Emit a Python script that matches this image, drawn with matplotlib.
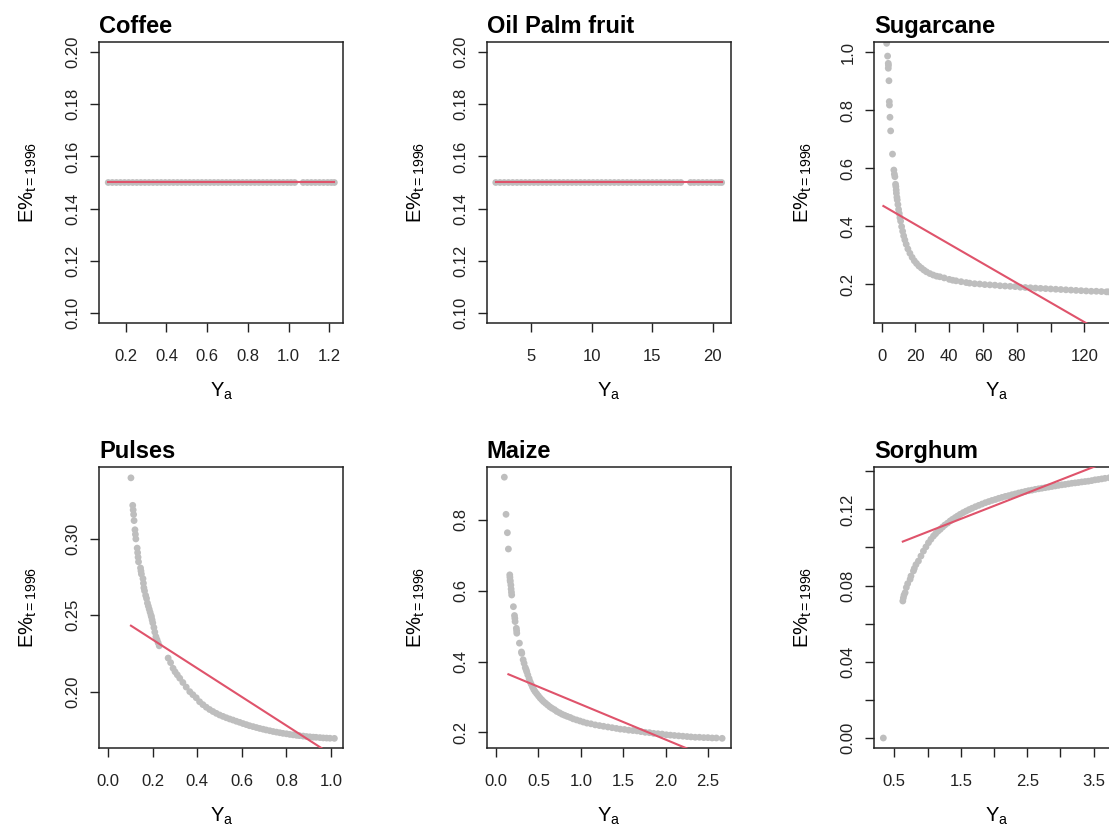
import matplotlib
matplotlib.use("Agg")
import matplotlib.pyplot as plt

plt.rcParams['font.family'] = ['Liberation Sans', 'DejaVu Sans']
plt.rcParams['mathtext.fontset'] = 'custom'
plt.rcParams['mathtext.rm'] = 'Liberation Sans'
plt.rcParams['mathtext.it'] = 'Liberation Sans:italic'
plt.rcParams['mathtext.default'] = 'regular'

GRAY = '#BEBEBE'
RED = '#DF536B'

# ---------------- data ----------------
titles = ['Coffee', 'Oil Palm fruit', 'Sugarcane', 'Pulses', 'Maize', 'Sorghum']

coffee_x = [0.114, 0.134, 0.154, 0.174, 0.194, 0.214, 0.234, 0.254, 0.274, 0.294,
            0.314, 0.334, 0.354, 0.374, 0.394, 0.414, 0.434, 0.454, 0.474, 0.494,
            0.514, 0.534, 0.554, 0.574, 0.594, 0.614, 0.634, 0.654, 0.674, 0.694,
            0.714, 0.734, 0.754, 0.774, 0.794, 0.814, 0.834, 0.854, 0.874, 0.894,
            0.914, 0.934, 0.954, 0.974, 0.994, 1.012, 1.030, 1.072, 1.092, 1.112,
            1.132, 1.152, 1.172, 1.192, 1.210, 1.225]
coffee_y = 0.15
coffee_line_x = [0.114, 1.225]
coffee_line_y = [0.15, 0.15]

oil_x = [2.05, 2.40, 2.75, 3.10, 3.45, 3.80, 4.15, 4.50, 4.85, 5.20, 5.55, 5.90,
         6.25, 6.60, 6.95, 7.30, 7.65, 8.00, 8.35, 8.70, 9.05, 9.40, 9.75, 10.10,
         10.45, 10.80, 11.15, 11.50, 11.85, 12.20, 12.55, 12.90, 13.25, 13.60,
         13.95, 14.30, 14.65, 15.00, 15.35, 15.70, 16.05, 16.40, 16.75, 17.05,
         17.35, 18.15, 18.45, 18.80, 19.15, 19.50, 19.85, 20.20, 20.50, 20.72]
oil_y = 0.15
oil_line_x = [2.05, 20.72]
oil_line_y = [0.15, 0.15]

sugar_x = [2.95, 3.5, 3.9, 3.9, 4.0, 4.3, 4.5, 4.6, 4.9, 5.3, 6.4, 7.2, 7.5, 7.8,
           8.2, 8.4, 8.6, 8.7, 9.0, 9.2, 9.6, 10.0, 10.4, 10.8, 11.2, 11.8, 12.4,
           13.0, 13.7, 14.5, 15.5, 16.7, 18.0, 19.3, 20.6, 22.0, 23.5, 25.0, 26.5,
           28.5, 30.5, 32.5, 34.4, 37, 40, 42, 44, 47, 50, 52, 55, 58, 61, 64, 67,
           70, 73, 76, 79, 82, 85, 88, 91, 94, 97, 100, 103, 106, 109, 112, 115,
           118, 121, 124, 127, 130, 133, 134.1]
sugar_y = [1.031, 0.987, 0.962, 0.945, 0.955, 0.902, 0.830, 0.818, 0.776, 0.729,
           0.649, 0.594, 0.580, 0.571, 0.545, 0.537, 0.525, 0.514, 0.500, 0.491,
           0.475, 0.458, 0.444, 0.430, 0.418, 0.399, 0.383, 0.367, 0.353, 0.338,
           0.322, 0.307, 0.293, 0.281, 0.272, 0.263, 0.256, 0.249, 0.243, 0.237,
           0.232, 0.228, 0.226, 0.222, 0.217, 0.214, 0.212, 0.209, 0.206, 0.204,
           0.202, 0.201, 0.199, 0.198, 0.197, 0.195, 0.194, 0.193, 0.192, 0.190,
           0.189, 0.188, 0.187, 0.186, 0.185, 0.184, 0.183, 0.182, 0.181, 0.180,
           0.179, 0.178, 0.177, 0.176, 0.176, 0.175, 0.174, 0.174]
sugar_line_x = [1.0, 134.1]
sugar_line_y = [0.470, 0.022]

pulses_x = [0.102, 0.110, 0.112, 0.114, 0.116, 0.120, 0.122, 0.124, 0.130, 0.132,
            0.134, 0.136, 0.145, 0.147, 0.149, 0.156, 0.158, 0.160, 0.163, 0.168,
            0.172, 0.176, 0.180, 0.184, 0.188, 0.192, 0.194, 0.197, 0.200, 0.205,
            0.209, 0.214, 0.219, 0.224, 0.229, 0.269, 0.280, 0.291, 0.300, 0.310,
            0.321, 0.335, 0.350, 0.366, 0.380, 0.395, 0.410, 0.425, 0.440, 0.455,
            0.470, 0.485, 0.500, 0.515, 0.530, 0.545, 0.560, 0.575, 0.590, 0.605,
            0.620, 0.634, 0.650, 0.665, 0.680, 0.695, 0.709, 0.725, 0.740, 0.755,
            0.770, 0.784, 0.800, 0.815, 0.830, 0.845, 0.858, 0.875, 0.890, 0.905,
            0.920, 0.933, 0.950, 0.965, 0.980, 0.995, 1.015]
pulses_y = [0.340, 0.322, 0.319, 0.316, 0.312, 0.306, 0.303, 0.300, 0.294, 0.291,
            0.288, 0.285, 0.281, 0.279, 0.277, 0.274, 0.271, 0.268, 0.266, 0.263,
            0.261, 0.258, 0.256, 0.254, 0.252, 0.250, 0.249, 0.247, 0.245, 0.242,
            0.239, 0.236, 0.234, 0.232, 0.230, 0.222, 0.219, 0.2153, 0.213, 0.211,
            0.2088, 0.206, 0.203, 0.200, 0.198, 0.196, 0.1934, 0.1915, 0.1898, 0.1883,
            0.1870, 0.1858, 0.1847, 0.1838, 0.1829, 0.1821, 0.1814, 0.1806, 0.1799, 0.1791,
            0.1784, 0.1777, 0.1771, 0.1765, 0.1759, 0.1754, 0.1749, 0.1744, 0.1739, 0.1735,
            0.1731, 0.1727, 0.1724, 0.1720, 0.1717, 0.1714, 0.1712, 0.1709, 0.1706, 0.1704,
            0.1702, 0.1701, 0.1699, 0.1697, 0.1696, 0.1695, 0.1694]
pulses_line_x = [0.102, 1.015]
pulses_line_y = [0.2432, 0.1576]

maize_x = [0.098, 0.118, 0.134, 0.146, 0.162, 0.164, 0.166, 0.168, 0.175, 0.178,
           0.182, 0.185, 0.205, 0.218, 0.222, 0.225, 0.240, 0.243, 0.245, 0.276,
           0.300, 0.304, 0.320, 0.331, 0.345, 0.355, 0.363, 0.375, 0.390, 0.402,
           0.415, 0.430, 0.445, 0.461, 0.480, 0.500, 0.520, 0.540, 0.560, 0.585,
           0.610, 0.635, 0.660, 0.690, 0.717, 0.750, 0.780, 0.810, 0.840, 0.875,
           0.910, 0.950, 0.990, 1.030, 1.072, 1.120, 1.170, 1.220, 1.269, 1.320,
           1.370, 1.420, 1.466, 1.515, 1.565, 1.615, 1.663, 1.710, 1.760, 1.810,
           1.860, 1.910, 1.960, 2.010, 2.057, 2.105, 2.155, 2.205, 2.254, 2.300,
           2.350, 2.400, 2.451, 2.500, 2.550, 2.600, 2.668]
maize_y = [0.921, 0.816, 0.764, 0.718, 0.645, 0.638, 0.630, 0.626, 0.616, 0.605,
           0.596, 0.588, 0.555, 0.530, 0.522, 0.513, 0.494, 0.487, 0.480, 0.452,
           0.427, 0.423, 0.405, 0.395, 0.383, 0.377, 0.371, 0.362, 0.352, 0.343,
           0.336, 0.328, 0.321, 0.315, 0.309, 0.303, 0.297, 0.292, 0.287, 0.282,
           0.277, 0.272, 0.268, 0.264, 0.259, 0.255, 0.251, 0.248, 0.245, 0.242,
           0.238, 0.235, 0.232, 0.229, 0.226, 0.224, 0.221, 0.219, 0.217, 0.215,
           0.213, 0.211, 0.209, 0.208, 0.206, 0.205, 0.204, 0.202, 0.200, 0.199,
           0.197, 0.196, 0.195, 0.193, 0.192, 0.191, 0.190, 0.189, 0.188, 0.187,
           0.186, 0.186, 0.185, 0.185, 0.184, 0.184, 0.183]
maize_line_x = [0.146, 2.668]
maize_line_y = [0.364, 0.113]

sorghum_x = [0.334, 0.627, 0.635, 0.645, 0.662, 0.680, 0.700, 0.737, 0.750, 0.787,
             0.800, 0.825, 0.862, 0.900, 0.937, 0.975, 1.013, 1.050, 1.088, 1.120,
             1.155, 1.189, 1.225, 1.260, 1.300, 1.339, 1.375, 1.415, 1.450, 1.490,
             1.535, 1.580, 1.625, 1.670, 1.720, 1.770, 1.820, 1.870, 1.920, 1.970,
             2.020, 2.070, 2.120, 2.170, 2.220, 2.270, 2.320, 2.370, 2.420, 2.470,
             2.520, 2.570, 2.620, 2.670, 2.720, 2.770, 2.820, 2.870, 2.920, 2.970,
             3.020, 3.070, 3.120, 3.170, 3.220, 3.270, 3.320, 3.370, 3.420, 3.470,
             3.520, 3.570, 3.620, 3.670, 3.735]
sorghum_y = [0.0, 0.0719, 0.0735, 0.0750, 0.0763, 0.0790, 0.0810, 0.0833, 0.0850, 0.0877,
             0.0890, 0.0910, 0.0929, 0.0955, 0.0981, 0.1003, 0.1025, 0.1043, 0.1060, 0.1072,
             0.1085, 0.1095, 0.1107, 0.1118, 0.1128, 0.1139, 0.1148, 0.1157, 0.1165, 0.1174,
             0.1183, 0.1191, 0.1199, 0.1206, 0.1214, 0.1221, 0.1228, 0.1235, 0.1241, 0.1247,
             0.1252, 0.1258, 0.1263, 0.1268, 0.1272, 0.1277, 0.1281, 0.1286, 0.1290, 0.1294,
             0.1298, 0.1301, 0.1305, 0.1308, 0.1311, 0.1314, 0.1317, 0.1320, 0.1323, 0.1326,
             0.1329, 0.1331, 0.1334, 0.1337, 0.1339, 0.1341, 0.1344, 0.1346, 0.1348, 0.1351,
             0.1355, 0.1357, 0.1360, 0.1363, 0.1366]
sorghum_line_x = [0.627, 3.735]
sorghum_line_y = [0.1031, 0.1455]

# ticks
coffee_xticks = [0.2, 0.4, 0.6, 0.8, 1.0, 1.2]
coffee_xlabels = ['0.2', '0.4', '0.6', '0.8', '1.0', '1.2']
flat_yticks = [0.10, 0.12, 0.14, 0.16, 0.18, 0.20]
flat_ylabels = ['0.10', '0.12', '0.14', '0.16', '0.18', '0.20']
oil_xticks = [5, 10, 15, 20]
oil_xlabels = ['5', '10', '15', '20']
sugar_xticks = [0, 20, 40, 60, 80, 100, 120, 140]
sugar_xlabels = ['0', '20', '40', '60', '80', '', '120', '']
sugar_yticks = [0.2, 0.4, 0.6, 0.8, 1.0]
sugar_ylabels = ['0.2', '0.4', '0.6', '0.8', '1.0']
pulses_xticks = [0.0, 0.2, 0.4, 0.6, 0.8, 1.0]
pulses_xlabels = ['0.0', '0.2', '0.4', '0.6', '0.8', '1.0']
pulses_yticks = [0.20, 0.25, 0.30]
pulses_ylabels = ['0.20', '0.25', '0.30']
maize_xticks = [0.0, 0.5, 1.0, 1.5, 2.0, 2.5]
maize_xlabels = ['0.0', '0.5', '1.0', '1.5', '2.0', '2.5']
maize_yticks = [0.2, 0.4, 0.6, 0.8]
maize_ylabels = ['0.2', '0.4', '0.6', '0.8']
sorghum_xticks = [0.5, 1.0, 1.5, 2.0, 2.5, 3.0, 3.5]
sorghum_xlabels = ['0.5', '', '1.5', '', '2.5', '', '3.5']
sorghum_yticks = [0.00, 0.02, 0.04, 0.06, 0.08, 0.10, 0.12, 0.14]
sorghum_ylabels = ['0.00', '', '0.04', '', '0.08', '', '0.12', '']

# ---------------- figure ----------------
W, H = 1109, 830
fig = plt.figure(figsize=(W / 100, H / 100), dpi=100)

def px_axes(left, top, width, height):
    return fig.add_axes([left / W, 1 - (top + height) / H, width / W, height / H])

AW, AH = 244.0, 281.6
lefts = [99.3, 486.7, 874.3]
tops = [41.7, 466.7]

panels = [
    dict(x=coffee_x, y=[coffee_y] * len(coffee_x), lx=coffee_line_x, ly=coffee_line_y,
         xlim=(0.070, 1.269), ylim=(0.096, 0.204), xt=coffee_xticks, xl=coffee_xlabels,
         yt=flat_yticks, yl=flat_ylabels),
    dict(x=oil_x, y=[oil_y] * len(oil_x), lx=oil_line_x, ly=oil_line_y,
         xlim=(1.30, 21.47), ylim=(0.096, 0.204), xt=oil_xticks, xl=oil_xlabels,
         yt=flat_yticks, yl=flat_ylabels),
    dict(x=sugar_x, y=sugar_y, lx=sugar_line_x, ly=sugar_line_y,
         xlim=(-4.37, 139.6), ylim=(0.0655, 1.0366), xt=sugar_xticks, xl=sugar_xlabels,
         yt=sugar_yticks, yl=sugar_ylabels),
    dict(x=pulses_x, y=pulses_y, lx=pulses_line_x, ly=pulses_line_y,
         xlim=(-0.040, 1.055), ylim=(0.1629, 0.3473), xt=pulses_xticks, xl=pulses_xlabels,
         yt=pulses_yticks, yl=pulses_ylabels),
    dict(x=maize_x, y=maize_y, lx=maize_line_x, ly=maize_line_y,
         xlim=(-0.110, 2.769), ylim=(0.1548, 0.9506), xt=maize_xticks, xl=maize_xlabels,
         yt=maize_yticks, yl=maize_ylabels),
    dict(x=sorghum_x, y=sorghum_y, lx=sorghum_line_x, ly=sorghum_line_y,
         xlim=(0.198, 3.87), ylim=(-0.0054, 0.1424), xt=sorghum_xticks, xl=sorghum_xlabels,
         yt=sorghum_yticks, yl=sorghum_ylabels),
]

for i, p in enumerate(panels):
    r, c = divmod(i, 3)
    ax = px_axes(lefts[c], tops[r], AW, AH)
    ax.scatter(p['x'], p['y'], s=24, color=GRAY, edgecolors='none', zorder=2)
    ax.plot(p['lx'], p['ly'], color=RED, lw=1.5, zorder=3)
    ax.set_xlim(*p['xlim'])
    ax.set_ylim(*p['ylim'])
    ax.set_xticks(p['xt'])
    ax.set_xticklabels(p['xl'])
    ax.set_yticks(p['yt'])
    ax.set_yticklabels(p['yl'], rotation=90, va='center')
    ax.tick_params(axis='both', direction='out', length=6.5, width=1.0,
                   labelsize=12, color='#222222', labelcolor='#222222')
    ax.tick_params(axis='x', pad=12)
    ax.tick_params(axis='y', pad=7)
    for sp in ax.spines.values():
        sp.set_linewidth(1.1)
        sp.set_color('#222222')
    ax.set_title(titles[i], loc='left', fontweight='bold', fontsize=17, pad=6)
    ax.set_ylabel('E%$_{t=1996}$', fontsize=14.5, va='center')
    ax.yaxis.set_label_coords(-0.29, 0.5)
    ax.set_xlabel('Y$_a$', fontsize=14.5, va='center')
    ax.xaxis.set_label_coords(0.5, -0.24)

fig.savefig('out.png', dpi=100)
